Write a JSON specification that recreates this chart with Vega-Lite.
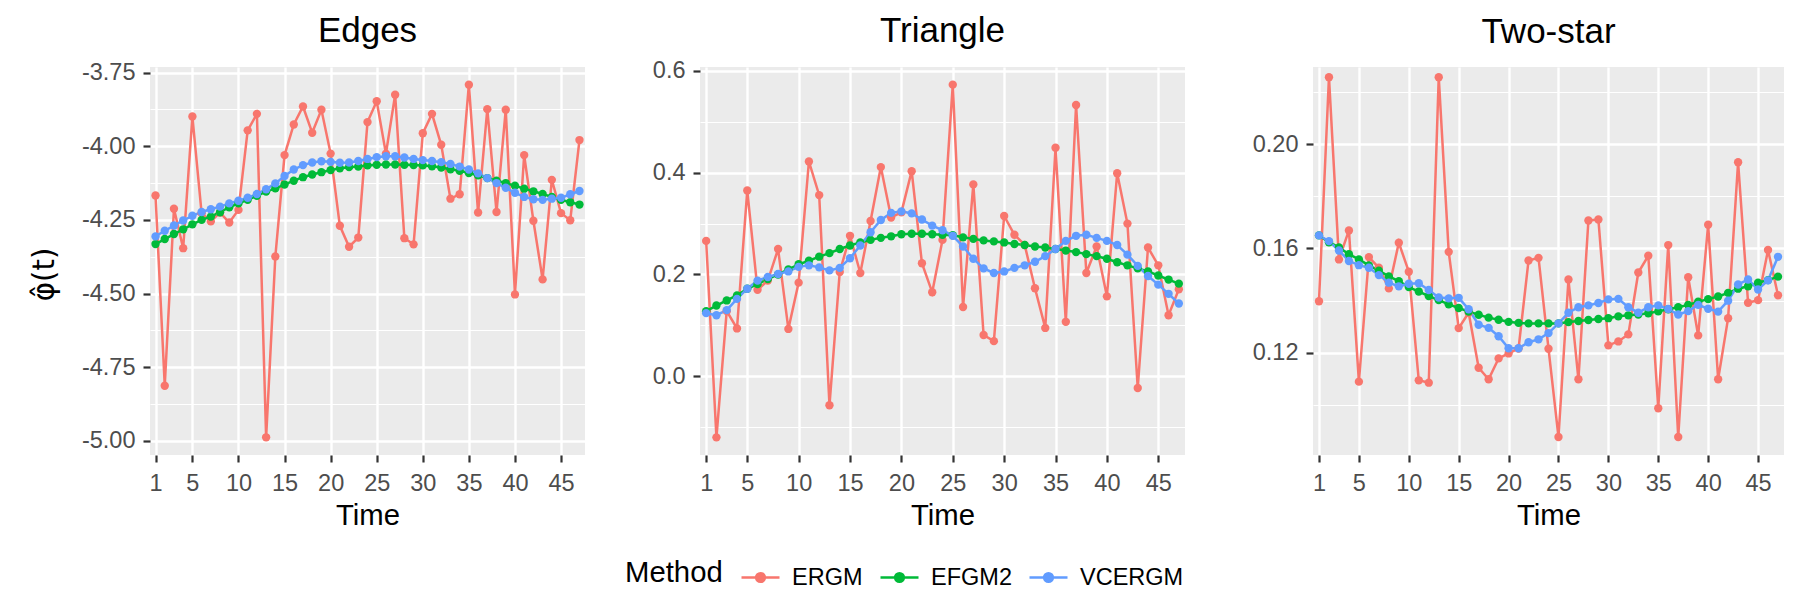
{
  "$schema": "https://vega.github.io/schema/vega-lite/v6.json",
  "background": "white",
  "padding": {"left": 30, "top": 14, "right": 5, "bottom": 0},
  "spacing": 67,
  "bounds": "full",
  "config": {
    "font": "Liberation Sans",
    "view": {"stroke": null, "fill": "#EBEBEB"},
    "axis": {
      "labelFont": "Liberation Sans", "labelFontSize": 23.5, "labelColor": "#4D4D4D",
      "tickColor": "#333333", "tickSize": 7, "tickWidth": 2.2, "labelPadding": 8,
      "domain": false, "gridColor": "#FFFFFF",
      "titleFont": "Liberation Sans", "titleFontSize": 29.3, "titleFontWeight": "normal", "titleColor": "#000000"
    },
    "axisX": {"labelPadding": 9, "titlePadding": 6.5},
    "title": {"font": "Liberation Sans", "fontSize": 35, "fontWeight": "normal", "color": "#000000", "anchor": "middle"}
  },
  "datasets": {
    "edges": [
      {"method":"ERGM","time":1,"value":-4.167},{"method":"ERGM","time":2,"value":-4.813},{"method":"ERGM","time":3,"value":-4.212},{"method":"ERGM","time":4,"value":-4.346},{"method":"ERGM","time":5,"value":-3.899},{"method":"ERGM","time":6,"value":-4.227},{"method":"ERGM","time":7,"value":-4.255},{"method":"ERGM","time":8,"value":-4.225},{"method":"ERGM","time":9,"value":-4.259},{"method":"ERGM","time":10,"value":-4.216},{"method":"ERGM","time":11,"value":-3.946},{"method":"ERGM","time":12,"value":-3.890},{"method":"ERGM","time":13,"value":-4.988},{"method":"ERGM","time":14,"value":-4.374},{"method":"ERGM","time":15,"value":-4.030},{"method":"ERGM","time":16,"value":-3.926},{"method":"ERGM","time":17,"value":-3.865},{"method":"ERGM","time":18,"value":-3.954},{"method":"ERGM","time":19,"value":-3.876},{"method":"ERGM","time":20,"value":-4.025},{"method":"ERGM","time":21,"value":-4.270},{"method":"ERGM","time":22,"value":-4.341},{"method":"ERGM","time":23,"value":-4.310},{"method":"ERGM","time":24,"value":-3.918},{"method":"ERGM","time":25,"value":-3.847},{"method":"ERGM","time":26,"value":-4.025},{"method":"ERGM","time":27,"value":-3.825},{"method":"ERGM","time":28,"value":-4.312},{"method":"ERGM","time":29,"value":-4.333},{"method":"ERGM","time":30,"value":-3.956},{"method":"ERGM","time":31,"value":-3.890},{"method":"ERGM","time":32,"value":-3.995},{"method":"ERGM","time":33,"value":-4.178},{"method":"ERGM","time":34,"value":-4.163},{"method":"ERGM","time":35,"value":-3.791},{"method":"ERGM","time":36,"value":-4.225},{"method":"ERGM","time":37,"value":-3.874},{"method":"ERGM","time":38,"value":-4.223},{"method":"ERGM","time":39,"value":-3.876},{"method":"ERGM","time":40,"value":-4.503},{"method":"ERGM","time":41,"value":-4.030},{"method":"ERGM","time":42,"value":-4.253},{"method":"ERGM","time":43,"value":-4.452},{"method":"ERGM","time":44,"value":-4.114},{"method":"ERGM","time":45,"value":-4.227},{"method":"ERGM","time":46,"value":-4.251},{"method":"ERGM","time":47,"value":-3.979},
      {"method":"EFGM2","time":1,"value":-4.332},{"method":"EFGM2","time":2,"value":-4.315},{"method":"EFGM2","time":3,"value":-4.298},{"method":"EFGM2","time":4,"value":-4.282},{"method":"EFGM2","time":5,"value":-4.265},{"method":"EFGM2","time":6,"value":-4.250},{"method":"EFGM2","time":7,"value":-4.239},{"method":"EFGM2","time":8,"value":-4.224},{"method":"EFGM2","time":9,"value":-4.207},{"method":"EFGM2","time":10,"value":-4.194},{"method":"EFGM2","time":11,"value":-4.182},{"method":"EFGM2","time":12,"value":-4.168},{"method":"EFGM2","time":13,"value":-4.154},{"method":"EFGM2","time":14,"value":-4.143},{"method":"EFGM2","time":15,"value":-4.130},{"method":"EFGM2","time":16,"value":-4.117},{"method":"EFGM2","time":17,"value":-4.105},{"method":"EFGM2","time":18,"value":-4.096},{"method":"EFGM2","time":19,"value":-4.088},{"method":"EFGM2","time":20,"value":-4.081},{"method":"EFGM2","time":21,"value":-4.075},{"method":"EFGM2","time":22,"value":-4.071},{"method":"EFGM2","time":23,"value":-4.069},{"method":"EFGM2","time":24,"value":-4.065},{"method":"EFGM2","time":25,"value":-4.063},{"method":"EFGM2","time":26,"value":-4.062},{"method":"EFGM2","time":27,"value":-4.062},{"method":"EFGM2","time":28,"value":-4.063},{"method":"EFGM2","time":29,"value":-4.064},{"method":"EFGM2","time":30,"value":-4.065},{"method":"EFGM2","time":31,"value":-4.068},{"method":"EFGM2","time":32,"value":-4.072},{"method":"EFGM2","time":33,"value":-4.078},{"method":"EFGM2","time":34,"value":-4.083},{"method":"EFGM2","time":35,"value":-4.091},{"method":"EFGM2","time":36,"value":-4.099},{"method":"EFGM2","time":37,"value":-4.108},{"method":"EFGM2","time":38,"value":-4.117},{"method":"EFGM2","time":39,"value":-4.125},{"method":"EFGM2","time":40,"value":-4.134},{"method":"EFGM2","time":41,"value":-4.144},{"method":"EFGM2","time":42,"value":-4.153},{"method":"EFGM2","time":43,"value":-4.162},{"method":"EFGM2","time":44,"value":-4.172},{"method":"EFGM2","time":45,"value":-4.182},{"method":"EFGM2","time":46,"value":-4.190},{"method":"EFGM2","time":47,"value":-4.198},
      {"method":"VCERGM","time":1,"value":-4.306},{"method":"VCERGM","time":2,"value":-4.287},{"method":"VCERGM","time":3,"value":-4.269},{"method":"VCERGM","time":4,"value":-4.252},{"method":"VCERGM","time":5,"value":-4.236},{"method":"VCERGM","time":6,"value":-4.223},{"method":"VCERGM","time":7,"value":-4.214},{"method":"VCERGM","time":8,"value":-4.205},{"method":"VCERGM","time":9,"value":-4.194},{"method":"VCERGM","time":10,"value":-4.185},{"method":"VCERGM","time":11,"value":-4.175},{"method":"VCERGM","time":12,"value":-4.162},{"method":"VCERGM","time":13,"value":-4.146},{"method":"VCERGM","time":14,"value":-4.126},{"method":"VCERGM","time":15,"value":-4.101},{"method":"VCERGM","time":16,"value":-4.079},{"method":"VCERGM","time":17,"value":-4.064},{"method":"VCERGM","time":18,"value":-4.055},{"method":"VCERGM","time":19,"value":-4.051},{"method":"VCERGM","time":20,"value":-4.053},{"method":"VCERGM","time":21,"value":-4.056},{"method":"VCERGM","time":22,"value":-4.055},{"method":"VCERGM","time":23,"value":-4.050},{"method":"VCERGM","time":24,"value":-4.043},{"method":"VCERGM","time":25,"value":-4.037},{"method":"VCERGM","time":26,"value":-4.034},{"method":"VCERGM","time":27,"value":-4.034},{"method":"VCERGM","time":28,"value":-4.038},{"method":"VCERGM","time":29,"value":-4.043},{"method":"VCERGM","time":30,"value":-4.047},{"method":"VCERGM","time":31,"value":-4.050},{"method":"VCERGM","time":32,"value":-4.054},{"method":"VCERGM","time":33,"value":-4.060},{"method":"VCERGM","time":34,"value":-4.069},{"method":"VCERGM","time":35,"value":-4.079},{"method":"VCERGM","time":36,"value":-4.092},{"method":"VCERGM","time":37,"value":-4.108},{"method":"VCERGM","time":38,"value":-4.125},{"method":"VCERGM","time":39,"value":-4.141},{"method":"VCERGM","time":40,"value":-4.158},{"method":"VCERGM","time":41,"value":-4.172},{"method":"VCERGM","time":42,"value":-4.180},{"method":"VCERGM","time":43,"value":-4.182},{"method":"VCERGM","time":44,"value":-4.178},{"method":"VCERGM","time":45,"value":-4.175},{"method":"VCERGM","time":46,"value":-4.163},{"method":"VCERGM","time":47,"value":-4.152}
    ],
    "triangle": [
      {"method":"ERGM","time":1,"value":0.266},{"method":"ERGM","time":2,"value":-0.120},{"method":"ERGM","time":3,"value":0.128},{"method":"ERGM","time":4,"value":0.094},{"method":"ERGM","time":5,"value":0.365},{"method":"ERGM","time":6,"value":0.170},{"method":"ERGM","time":7,"value":0.188},{"method":"ERGM","time":8,"value":0.250},{"method":"ERGM","time":9,"value":0.093},{"method":"ERGM","time":10,"value":0.184},{"method":"ERGM","time":11,"value":0.422},{"method":"ERGM","time":12,"value":0.356},{"method":"ERGM","time":13,"value":-0.057},{"method":"ERGM","time":14,"value":0.205},{"method":"ERGM","time":15,"value":0.276},{"method":"ERGM","time":16,"value":0.203},{"method":"ERGM","time":17,"value":0.305},{"method":"ERGM","time":18,"value":0.411},{"method":"ERGM","time":19,"value":0.312},{"method":"ERGM","time":20,"value":0.322},{"method":"ERGM","time":21,"value":0.403},{"method":"ERGM","time":22,"value":0.222},{"method":"ERGM","time":23,"value":0.165},{"method":"ERGM","time":24,"value":0.268},{"method":"ERGM","time":25,"value":0.573},{"method":"ERGM","time":26,"value":0.136},{"method":"ERGM","time":27,"value":0.377},{"method":"ERGM","time":28,"value":0.081},{"method":"ERGM","time":29,"value":0.069},{"method":"ERGM","time":30,"value":0.315},{"method":"ERGM","time":31,"value":0.278},{"method":"ERGM","time":32,"value":0.258},{"method":"ERGM","time":33,"value":0.173},{"method":"ERGM","time":34,"value":0.095},{"method":"ERGM","time":35,"value":0.449},{"method":"ERGM","time":36,"value":0.107},{"method":"ERGM","time":37,"value":0.533},{"method":"ERGM","time":38,"value":0.203},{"method":"ERGM","time":39,"value":0.255},{"method":"ERGM","time":40,"value":0.157},{"method":"ERGM","time":41,"value":0.399},{"method":"ERGM","time":42,"value":0.300},{"method":"ERGM","time":43,"value":-0.023},{"method":"ERGM","time":44,"value":0.253},{"method":"ERGM","time":45,"value":0.218},{"method":"ERGM","time":46,"value":0.120},{"method":"ERGM","time":47,"value":0.171},
      {"method":"EFGM2","time":1,"value":0.128},{"method":"EFGM2","time":2,"value":0.139},{"method":"EFGM2","time":3,"value":0.149},{"method":"EFGM2","time":4,"value":0.159},{"method":"EFGM2","time":5,"value":0.172},{"method":"EFGM2","time":6,"value":0.181},{"method":"EFGM2","time":7,"value":0.191},{"method":"EFGM2","time":8,"value":0.200},{"method":"EFGM2","time":9,"value":0.210},{"method":"EFGM2","time":10,"value":0.220},{"method":"EFGM2","time":11,"value":0.227},{"method":"EFGM2","time":12,"value":0.235},{"method":"EFGM2","time":13,"value":0.242},{"method":"EFGM2","time":14,"value":0.250},{"method":"EFGM2","time":15,"value":0.257},{"method":"EFGM2","time":16,"value":0.263},{"method":"EFGM2","time":17,"value":0.268},{"method":"EFGM2","time":18,"value":0.272},{"method":"EFGM2","time":19,"value":0.275},{"method":"EFGM2","time":20,"value":0.279},{"method":"EFGM2","time":21,"value":0.280},{"method":"EFGM2","time":22,"value":0.280},{"method":"EFGM2","time":23,"value":0.279},{"method":"EFGM2","time":24,"value":0.278},{"method":"EFGM2","time":25,"value":0.277},{"method":"EFGM2","time":26,"value":0.273},{"method":"EFGM2","time":27,"value":0.270},{"method":"EFGM2","time":28,"value":0.267},{"method":"EFGM2","time":29,"value":0.265},{"method":"EFGM2","time":30,"value":0.263},{"method":"EFGM2","time":31,"value":0.260},{"method":"EFGM2","time":32,"value":0.258},{"method":"EFGM2","time":33,"value":0.255},{"method":"EFGM2","time":34,"value":0.253},{"method":"EFGM2","time":35,"value":0.250},{"method":"EFGM2","time":36,"value":0.247},{"method":"EFGM2","time":37,"value":0.244},{"method":"EFGM2","time":38,"value":0.240},{"method":"EFGM2","time":39,"value":0.236},{"method":"EFGM2","time":40,"value":0.231},{"method":"EFGM2","time":41,"value":0.224},{"method":"EFGM2","time":42,"value":0.218},{"method":"EFGM2","time":43,"value":0.212},{"method":"EFGM2","time":44,"value":0.206},{"method":"EFGM2","time":45,"value":0.198},{"method":"EFGM2","time":46,"value":0.190},{"method":"EFGM2","time":47,"value":0.182},
      {"method":"VCERGM","time":1,"value":0.124},{"method":"VCERGM","time":2,"value":0.120},{"method":"VCERGM","time":3,"value":0.130},{"method":"VCERGM","time":4,"value":0.152},{"method":"VCERGM","time":5,"value":0.172},{"method":"VCERGM","time":6,"value":0.188},{"method":"VCERGM","time":7,"value":0.195},{"method":"VCERGM","time":8,"value":0.201},{"method":"VCERGM","time":9,"value":0.206},{"method":"VCERGM","time":10,"value":0.215},{"method":"VCERGM","time":11,"value":0.218},{"method":"VCERGM","time":12,"value":0.214},{"method":"VCERGM","time":13,"value":0.208},{"method":"VCERGM","time":14,"value":0.213},{"method":"VCERGM","time":15,"value":0.232},{"method":"VCERGM","time":16,"value":0.257},{"method":"VCERGM","time":17,"value":0.283},{"method":"VCERGM","time":18,"value":0.307},{"method":"VCERGM","time":19,"value":0.321},{"method":"VCERGM","time":20,"value":0.324},{"method":"VCERGM","time":21,"value":0.320},{"method":"VCERGM","time":22,"value":0.308},{"method":"VCERGM","time":23,"value":0.296},{"method":"VCERGM","time":24,"value":0.287},{"method":"VCERGM","time":25,"value":0.276},{"method":"VCERGM","time":26,"value":0.255},{"method":"VCERGM","time":27,"value":0.231},{"method":"VCERGM","time":28,"value":0.212},{"method":"VCERGM","time":29,"value":0.203},{"method":"VCERGM","time":30,"value":0.206},{"method":"VCERGM","time":31,"value":0.213},{"method":"VCERGM","time":32,"value":0.218},{"method":"VCERGM","time":33,"value":0.225},{"method":"VCERGM","time":34,"value":0.236},{"method":"VCERGM","time":35,"value":0.250},{"method":"VCERGM","time":36,"value":0.266},{"method":"VCERGM","time":37,"value":0.276},{"method":"VCERGM","time":38,"value":0.278},{"method":"VCERGM","time":39,"value":0.272},{"method":"VCERGM","time":40,"value":0.266},{"method":"VCERGM","time":41,"value":0.258},{"method":"VCERGM","time":42,"value":0.239},{"method":"VCERGM","time":43,"value":0.217},{"method":"VCERGM","time":44,"value":0.197},{"method":"VCERGM","time":45,"value":0.180},{"method":"VCERGM","time":46,"value":0.162},{"method":"VCERGM","time":47,"value":0.143}
    ],
    "twostar": [
      {"method":"ERGM","time":1,"value":0.1398},{"method":"ERGM","time":2,"value":0.2256},{"method":"ERGM","time":3,"value":0.1558},{"method":"ERGM","time":4,"value":0.1669},{"method":"ERGM","time":5,"value":0.1090},{"method":"ERGM","time":6,"value":0.1567},{"method":"ERGM","time":7,"value":0.1526},{"method":"ERGM","time":8,"value":0.1447},{"method":"ERGM","time":9,"value":0.1622},{"method":"ERGM","time":10,"value":0.1511},{"method":"ERGM","time":11,"value":0.1095},{"method":"ERGM","time":12,"value":0.1086},{"method":"ERGM","time":13,"value":0.2256},{"method":"ERGM","time":14,"value":0.1587},{"method":"ERGM","time":15,"value":0.1295},{"method":"ERGM","time":16,"value":0.1354},{"method":"ERGM","time":17,"value":0.1143},{"method":"ERGM","time":18,"value":0.1099},{"method":"ERGM","time":19,"value":0.1179},{"method":"ERGM","time":20,"value":0.1198},{"method":"ERGM","time":21,"value":0.1217},{"method":"ERGM","time":22,"value":0.1554},{"method":"ERGM","time":23,"value":0.1564},{"method":"ERGM","time":24,"value":0.1216},{"method":"ERGM","time":25,"value":0.0878},{"method":"ERGM","time":26,"value":0.1481},{"method":"ERGM","time":27,"value":0.1099},{"method":"ERGM","time":28,"value":0.1707},{"method":"ERGM","time":29,"value":0.1711},{"method":"ERGM","time":30,"value":0.1229},{"method":"ERGM","time":31,"value":0.1244},{"method":"ERGM","time":32,"value":0.1271},{"method":"ERGM","time":33,"value":0.1508},{"method":"ERGM","time":34,"value":0.1572},{"method":"ERGM","time":35,"value":0.0988},{"method":"ERGM","time":36,"value":0.1613},{"method":"ERGM","time":37,"value":0.0878},{"method":"ERGM","time":38,"value":0.1490},{"method":"ERGM","time":39,"value":0.1267},{"method":"ERGM","time":40,"value":0.1691},{"method":"ERGM","time":41,"value":0.1099},{"method":"ERGM","time":42,"value":0.1333},{"method":"ERGM","time":43,"value":0.1930},{"method":"ERGM","time":44,"value":0.1392},{"method":"ERGM","time":45,"value":0.1402},{"method":"ERGM","time":46,"value":0.1594},{"method":"ERGM","time":47,"value":0.1421},
      {"method":"EFGM2","time":1,"value":0.1650},{"method":"EFGM2","time":2,"value":0.1624},{"method":"EFGM2","time":3,"value":0.1604},{"method":"EFGM2","time":4,"value":0.1578},{"method":"EFGM2","time":5,"value":0.1558},{"method":"EFGM2","time":6,"value":0.1535},{"method":"EFGM2","time":7,"value":0.1515},{"method":"EFGM2","time":8,"value":0.1493},{"method":"EFGM2","time":9,"value":0.1475},{"method":"EFGM2","time":10,"value":0.1452},{"method":"EFGM2","time":11,"value":0.1435},{"method":"EFGM2","time":12,"value":0.1418},{"method":"EFGM2","time":13,"value":0.1402},{"method":"EFGM2","time":14,"value":0.1386},{"method":"EFGM2","time":15,"value":0.1372},{"method":"EFGM2","time":16,"value":0.1358},{"method":"EFGM2","time":17,"value":0.1346},{"method":"EFGM2","time":18,"value":0.1335},{"method":"EFGM2","time":19,"value":0.1327},{"method":"EFGM2","time":20,"value":0.1319},{"method":"EFGM2","time":21,"value":0.1315},{"method":"EFGM2","time":22,"value":0.1313},{"method":"EFGM2","time":23,"value":0.1313},{"method":"EFGM2","time":24,"value":0.1313},{"method":"EFGM2","time":25,"value":0.1313},{"method":"EFGM2","time":26,"value":0.1318},{"method":"EFGM2","time":27,"value":0.1322},{"method":"EFGM2","time":28,"value":0.1326},{"method":"EFGM2","time":29,"value":0.1330},{"method":"EFGM2","time":30,"value":0.1333},{"method":"EFGM2","time":31,"value":0.1340},{"method":"EFGM2","time":32,"value":0.1344},{"method":"EFGM2","time":33,"value":0.1347},{"method":"EFGM2","time":34,"value":0.1352},{"method":"EFGM2","time":35,"value":0.1359},{"method":"EFGM2","time":36,"value":0.1367},{"method":"EFGM2","time":37,"value":0.1375},{"method":"EFGM2","time":38,"value":0.1384},{"method":"EFGM2","time":39,"value":0.1396},{"method":"EFGM2","time":40,"value":0.1406},{"method":"EFGM2","time":41,"value":0.1416},{"method":"EFGM2","time":42,"value":0.1430},{"method":"EFGM2","time":43,"value":0.1446},{"method":"EFGM2","time":44,"value":0.1455},{"method":"EFGM2","time":45,"value":0.1469},{"method":"EFGM2","time":46,"value":0.1479},{"method":"EFGM2","time":47,"value":0.1492},
      {"method":"VCERGM","time":1,"value":0.1650},{"method":"VCERGM","time":2,"value":0.1628},{"method":"VCERGM","time":3,"value":0.1592},{"method":"VCERGM","time":4,"value":0.1552},{"method":"VCERGM","time":5,"value":0.1536},{"method":"VCERGM","time":6,"value":0.1526},{"method":"VCERGM","time":7,"value":0.1498},{"method":"VCERGM","time":8,"value":0.1469},{"method":"VCERGM","time":9,"value":0.1455},{"method":"VCERGM","time":10,"value":0.1465},{"method":"VCERGM","time":11,"value":0.1467},{"method":"VCERGM","time":12,"value":0.1441},{"method":"VCERGM","time":13,"value":0.1412},{"method":"VCERGM","time":14,"value":0.1409},{"method":"VCERGM","time":15,"value":0.1411},{"method":"VCERGM","time":16,"value":0.1367},{"method":"VCERGM","time":17,"value":0.1308},{"method":"VCERGM","time":18,"value":0.1296},{"method":"VCERGM","time":19,"value":0.1264},{"method":"VCERGM","time":20,"value":0.1218},{"method":"VCERGM","time":21,"value":0.1218},{"method":"VCERGM","time":22,"value":0.1241},{"method":"VCERGM","time":23,"value":0.1252},{"method":"VCERGM","time":24,"value":0.1276},{"method":"VCERGM","time":25,"value":0.1313},{"method":"VCERGM","time":26,"value":0.1354},{"method":"VCERGM","time":27,"value":0.1375},{"method":"VCERGM","time":28,"value":0.1382},{"method":"VCERGM","time":29,"value":0.1391},{"method":"VCERGM","time":30,"value":0.1405},{"method":"VCERGM","time":31,"value":0.1407},{"method":"VCERGM","time":32,"value":0.1375},{"method":"VCERGM","time":33,"value":0.1354},{"method":"VCERGM","time":34,"value":0.1375},{"method":"VCERGM","time":35,"value":0.1382},{"method":"VCERGM","time":36,"value":0.1368},{"method":"VCERGM","time":37,"value":0.1347},{"method":"VCERGM","time":38,"value":0.1360},{"method":"VCERGM","time":39,"value":0.1384},{"method":"VCERGM","time":40,"value":0.1369},{"method":"VCERGM","time":41,"value":0.1358},{"method":"VCERGM","time":42,"value":0.1400},{"method":"VCERGM","time":43,"value":0.1462},{"method":"VCERGM","time":44,"value":0.1481},{"method":"VCERGM","time":45,"value":0.1443},{"method":"VCERGM","time":46,"value":0.1478},{"method":"VCERGM","time":47,"value":0.1568}
    ]
  },
  "hconcat": [
    {
      "width": 435, "height": 388,
      "title": {"text": "Edges", "offset": 11.5},
      "data": {"name": "edges"},
      "mark": {"type": "line", "strokeWidth": 2.5, "point": {"filled": true, "size": 70, "opacity": 1}},
      "encoding": {
        "x": {"field": "time", "type": "quantitative", "scale": {"domain": [0.4, 47.6], "nice": false, "zero": false},
              "axis": {"values": [1,5,10,15,20,25,30,35,40,45], "format": "d", "title": "Time", "gridWidth": 2.4}},
        "y": {"field": "value", "type": "quantitative", "scale": {"domain": [-5.048, -3.731], "nice": false, "zero": false},
              "axis": {"values": [-5.0,-4.875,-4.75,-4.625,-4.5,-4.375,-4.25,-4.125,-4.0,-3.875,-3.75],
                       "labelExpr": "abs(datum.value*4 - round(datum.value*4)) < 0.001 ? replace(format(datum.value, '.2f'), '\u2212', '-') : ''",
                       "gridWidth": {"condition": {"test": "abs(datum.value*4 - round(datum.value*4)) < 0.001", "value": 2.4}, "value": 1.2},
                       "tickOpacity": {"condition": {"test": "abs(datum.value*4 - round(datum.value*4)) < 0.001", "value": 1}, "value": 0},
                       "title": "\u03c6\u0302(t)", "titleFont": "DejaVu Sans", "titleFontSize": 29.3, "titlePadding": 22, "titleY": 207}},
        "color": {"field": "method", "type": "nominal",
                  "scale": {"domain": ["ERGM","EFGM2","VCERGM"], "range": ["#F8766D","#00BA38","#619CFF"]},
                  "legend": {"title": "Method", "orient": "none", "legendX": 475, "legendY": 490, "direction": "horizontal",
                             "titleOrient": "left", "titleFontSize": 29.3, "titleFontWeight": "normal", "titleColor": "#000000", "titlePadding": 17,
                             "titleBaseline": "middle", "titleAnchor": "middle",
                             "labelFontSize": 23.5, "labelColor": "#000000", "labelOffset": 11, "columnPadding": 12,
                             "symbolType": "M-1,0H1M-0.23,0A0.23,0.23 0 1 1 0.23,0A0.23,0.23 0 1 1 -0.23,0Z", "symbolSize": 1444, "symbolStrokeWidth": 2.5,
                             "encode": {"symbols": {"update": {"fill": {"scale": "color", "field": "value"}, "stroke": {"scale": "color", "field": "value"}, "opacity": {"value": 1}}}}}}
      }
    },
    {
      "width": 485, "height": 388,
      "title": {"text": "Triangle", "offset": 9.8},
      "data": {"name": "triangle"},
      "mark": {"type": "line", "strokeWidth": 2.5, "point": {"filled": true, "size": 70, "opacity": 1}},
      "encoding": {
        "x": {"field": "time", "type": "quantitative", "scale": {"domain": [0.4, 47.6], "nice": false, "zero": false},
              "axis": {"values": [1,5,10,15,20,25,30,35,40,45], "format": "d", "title": "Time", "gridWidth": 2.4}},
        "y": {"field": "value", "type": "quantitative", "scale": {"domain": [-0.1547, 0.6077], "nice": false, "zero": false},
              "axis": {"values": [-0.1,0,0.1,0.2,0.3,0.4,0.5,0.6],
                       "labelExpr": "abs(datum.value*5 - round(datum.value*5)) < 0.001 ? replace(format(datum.value, '.1f'), '\u2212', '-') : ''",
                       "gridWidth": {"condition": {"test": "abs(datum.value*5 - round(datum.value*5)) < 0.001", "value": 2.4}, "value": 1.2},
                       "tickOpacity": {"condition": {"test": "abs(datum.value*5 - round(datum.value*5)) < 0.001", "value": 1}, "value": 0},
                       "title": null}},
        "color": {"field": "method", "type": "nominal",
                  "scale": {"domain": ["ERGM","EFGM2","VCERGM"], "range": ["#F8766D","#00BA38","#619CFF"]}}
      }
    },
    {
      "width": 471, "height": 388,
      "title": {"text": "Two-star", "offset": 17.5},
      "data": {"name": "twostar"},
      "mark": {"type": "line", "strokeWidth": 2.5, "point": {"filled": true, "size": 70, "opacity": 1}},
      "encoding": {
        "x": {"field": "time", "type": "quantitative", "scale": {"domain": [0.4, 47.6], "nice": false, "zero": false},
              "axis": {"values": [1,5,10,15,20,25,30,35,40,45], "format": "d", "title": "Time", "gridWidth": 2.4}},
        "y": {"field": "value", "type": "quantitative", "scale": {"domain": [0.0809, 0.2295], "nice": false, "zero": false},
              "axis": {"values": [0.10,0.12,0.14,0.16,0.18,0.20,0.22],
                       "labelExpr": "abs(datum.value*25 - round(datum.value*25)) < 0.001 ? format(datum.value, '.2f') : ''",
                       "gridWidth": {"condition": {"test": "abs(datum.value*25 - round(datum.value*25)) < 0.001", "value": 2.4}, "value": 1.2},
                       "tickOpacity": {"condition": {"test": "abs(datum.value*25 - round(datum.value*25)) < 0.001", "value": 1}, "value": 0},
                       "title": null}},
        "color": {"field": "method", "type": "nominal",
                  "scale": {"domain": ["ERGM","EFGM2","VCERGM"], "range": ["#F8766D","#00BA38","#619CFF"]}}
      }
    }
  ]
}
